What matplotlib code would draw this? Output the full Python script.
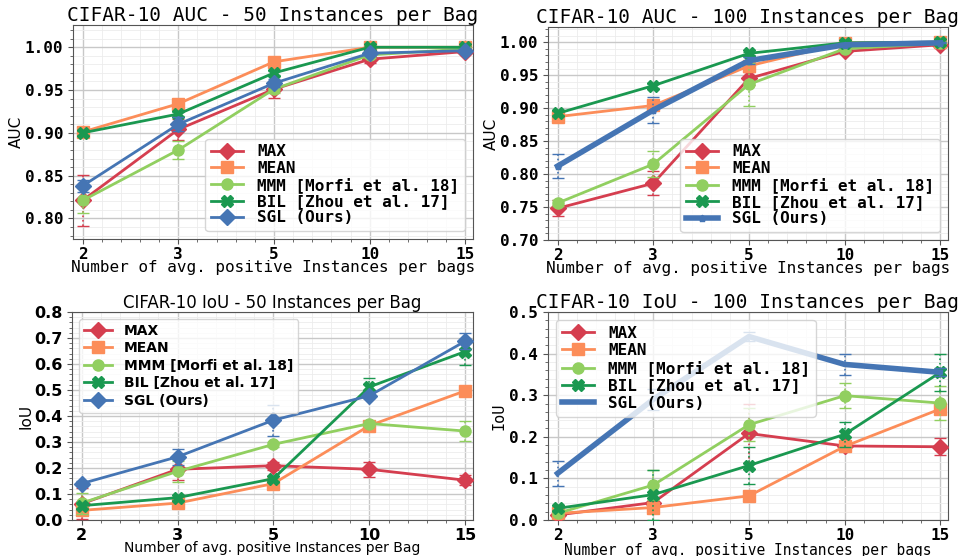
import matplotlib
matplotlib.use("Agg")
import matplotlib.pyplot as plt
from matplotlib.ticker import AutoMinorLocator, MultipleLocator
import numpy as np

x_labels = ["2", "3", "5", "10", "15"]
methods = ["MAX", "MEAN", "MMM [Morfi et al. 18]", "BIL [Zhou et al. 17]", "SGL (Ours)"]
colors = ["#d53e4f", "#fc8d59", "#91cf60", "#1a9850", "#4575b4"]
markers = ["D", "s", "o", "X", "D"]

# AUC, 50 instances per bag
auc50 = [
    [0.821, 0.904, 0.951, 0.986, 0.995],
    [0.901, 0.934, 0.983, 1.000, 1.000],
    [0.821, 0.880, 0.951, 0.991, 0.998],
    [0.900, 0.922, 0.970, 1.000, 1.000],
    [0.838, 0.910, 0.958, 0.993, 0.996],
]
auc50_err = [
    [0.030, 0.012, 0.010, 0.004, 0.002],
    [0.002, 0.002, 0.002, 0.001, 0.001],
    [0.015, 0.010, 0.005, 0.003, 0.002],
    [0.002, 0.002, 0.002, 0.001, 0.001],
    [0.007, 0.008, 0.005, 0.002, 0.002],
]
# AUC, 100 instances per bag
auc100 = [
    [0.748, 0.786, 0.945, 0.986, 0.996],
    [0.887, 0.904, 0.964, 0.999, 1.000],
    [0.756, 0.815, 0.936, 0.990, 0.998],
    [0.892, 0.934, 0.983, 0.999, 1.000],
    [0.812, 0.897, 0.972, 0.996, 0.999],
]
auc100_err = [
    [0.012, 0.018, 0.010, 0.003, 0.002],
    [0.003, 0.003, 0.008, 0.002, 0.001],
    [0.005, 0.020, 0.033, 0.003, 0.002],
    [0.003, 0.003, 0.002, 0.001, 0.001],
    [0.018, 0.020, 0.005, 0.002, 0.001],
]
# IoU, 50 instances per bag
iou50 = [
    [0.062, 0.195, 0.209, 0.195, 0.153],
    [0.037, 0.065, 0.140, 0.363, 0.497],
    [0.065, 0.187, 0.291, 0.371, 0.342],
    [0.055, 0.086, 0.159, 0.512, 0.648],
    [0.140, 0.243, 0.384, 0.478, 0.688],
]
iou50_err = [
    [0.060, 0.040, 0.015, 0.030, 0.020],
    [0.010, 0.010, 0.010, 0.010, 0.010],
    [0.040, 0.040, 0.010, 0.010, 0.040],
    [0.010, 0.010, 0.010, 0.035, 0.050],
    [0.010, 0.030, 0.060, 0.010, 0.030],
]
# IoU, 100 instances per bag
iou100 = [
    [0.012, 0.042, 0.208, 0.178, 0.176],
    [0.016, 0.030, 0.058, 0.177, 0.267],
    [0.016, 0.084, 0.229, 0.299, 0.281],
    [0.028, 0.061, 0.131, 0.206, 0.355],
    [0.112, 0.290, 0.441, 0.374, 0.355],
]
iou100_err = [
    [0.005, 0.010, 0.070, 0.010, 0.020],
    [0.005, 0.005, 0.005, 0.010, 0.010],
    [0.005, 0.035, 0.040, 0.030, 0.040],
    [0.005, 0.060, 0.045, 0.030, 0.045],
    [0.030, 0.025, 0.010, 0.025, 0.010],
]

W, H = 959, 556
fig = plt.figure(figsize=(W / 100, H / 100), dpi=100)


def ax_at(l, r, t, b):
    return fig.add_axes([l / W, 1 - b / H, (r - l) / W, (b - t) / H])


MONO = "DejaVu Sans Mono"
SANS = "DejaVu Sans"


def panel(ax, data, err, title, ylabel, xlabel, ylim, ystep, fam, legloc,
          sgl_style, yfmt, tsize, xlsize, legsize, legspacing, ylpad, xlpad):
    xs = np.arange(len(x_labels))
    handles = []
    for i, m in enumerate(methods):
        lw = 2
        ms = 8
        mk = markers[i]
        if i == 4 and sgl_style == "thick":
            lw, ms, mk = 4, 5, "p"
        elif i == 4 and sgl_style == "thick_nomark":
            lw, ms, mk = 4, 0, ""
        el = ax.errorbar(xs, data[i], yerr=err[i], color=colors[i], lw=lw,
                         marker=mk if mk else None, ms=ms, capsize=4,
                         elinewidth=1.2, capthick=1, label=m, zorder=3 + i * 0.1)
        for bl in el[2]:
            bl.set_linestyle(":")
        handles.append(el.lines[0])
    ax.set_xlim(-0.1, 4.08)
    ax.set_ylim(*ylim)
    ax.set_xticks(xs)
    ax.set_xticklabels(x_labels)
    ax.yaxis.set_major_locator(MultipleLocator(ystep))
    ax.yaxis.set_major_formatter(matplotlib.ticker.FormatStrFormatter(yfmt))
    ax.xaxis.set_minor_locator(AutoMinorLocator(5))
    ax.yaxis.set_minor_locator(AutoMinorLocator(5))
    ax.grid(True, which="major", color="#c8c8c8", lw=1.0)
    ax.grid(True, which="minor", color="#ececec", lw=0.6)
    ax.set_axisbelow(True)
    for s in ax.spines.values():
        s.set_color("#555555")
    ax.tick_params(which="both", colors="#555555", labelcolor="black")
    ax.tick_params(axis="x", which="major", pad=2)
    for lab in ax.get_xticklabels() + ax.get_yticklabels():
        lab.set_fontfamily(fam)
        lab.set_fontweight("bold")
        lab.set_fontsize(11.5)
    ax.set_title(title, fontfamily=fam, fontsize=tsize, pad=3)
    ax.set_xlabel(xlabel, fontfamily=fam, fontsize=xlsize, labelpad=xlpad)
    yl_fam = SANS if ylabel == "AUC" else (MONO if fam == MONO else SANS)
    ax.set_ylabel(ylabel, fontfamily=yl_fam, fontsize=11, labelpad=ylpad)
    ax.legend(handles, methods, loc=legloc,
              prop={"family": fam, "weight": "bold", "size": legsize},
              framealpha=0.8, edgecolor="#cccccc", fancybox=True,
              labelspacing=legspacing, borderpad=0.35, handletextpad=0.9)
    return ax


ax1 = ax_at(73, 473, 25, 239)
panel(ax1, auc50, auc50_err, "CIFAR-10 AUC - 50 Instances per Bag", "AUC",
      "Number of avg. positive Instances per bags", (0.776, 1.026), 0.05,
      MONO, "lower right", "normal", "%.2f", 14, 11.5, 11.5, 0.08, 1, -1)

ax2 = ax_at(548, 948, 27, 240)
panel(ax2, auc100, auc100_err, "CIFAR-10 AUC - 100 Instances per Bag", "AUC",
      "Number of avg. positive Instances per bags", (0.70, 1.023), 0.05,
      MONO, "lower right", "thick", "%.2f", 14, 11.5, 11.5, 0.1, 1, -1)

ax3 = ax_at(72, 473, 312, 520)
panel(ax3, iou50, iou50_err, "CIFAR-10 IoU - 50 Instances per Bag", "IoU",
      "Number of avg. positive Instances per Bag", (0.0, 0.8), 0.1,
      SANS, "upper left", "normal", "%.1f", 12, 10, 10, 0.25, 0, -1)

ax4 = ax_at(548, 948, 312, 520)
panel(ax4, iou100, iou100_err, "CIFAR-10 IoU - 100 Instances per Bag", "IoU",
      "Number of avg. positive Instances per bags", (0.0, 0.5), 0.1,
      MONO, "upper left", "thick_nomark", "%.1f", 14, 10.5, 11.5, 0.15, 2, 0)

fig.savefig("out.png", dpi=100)
